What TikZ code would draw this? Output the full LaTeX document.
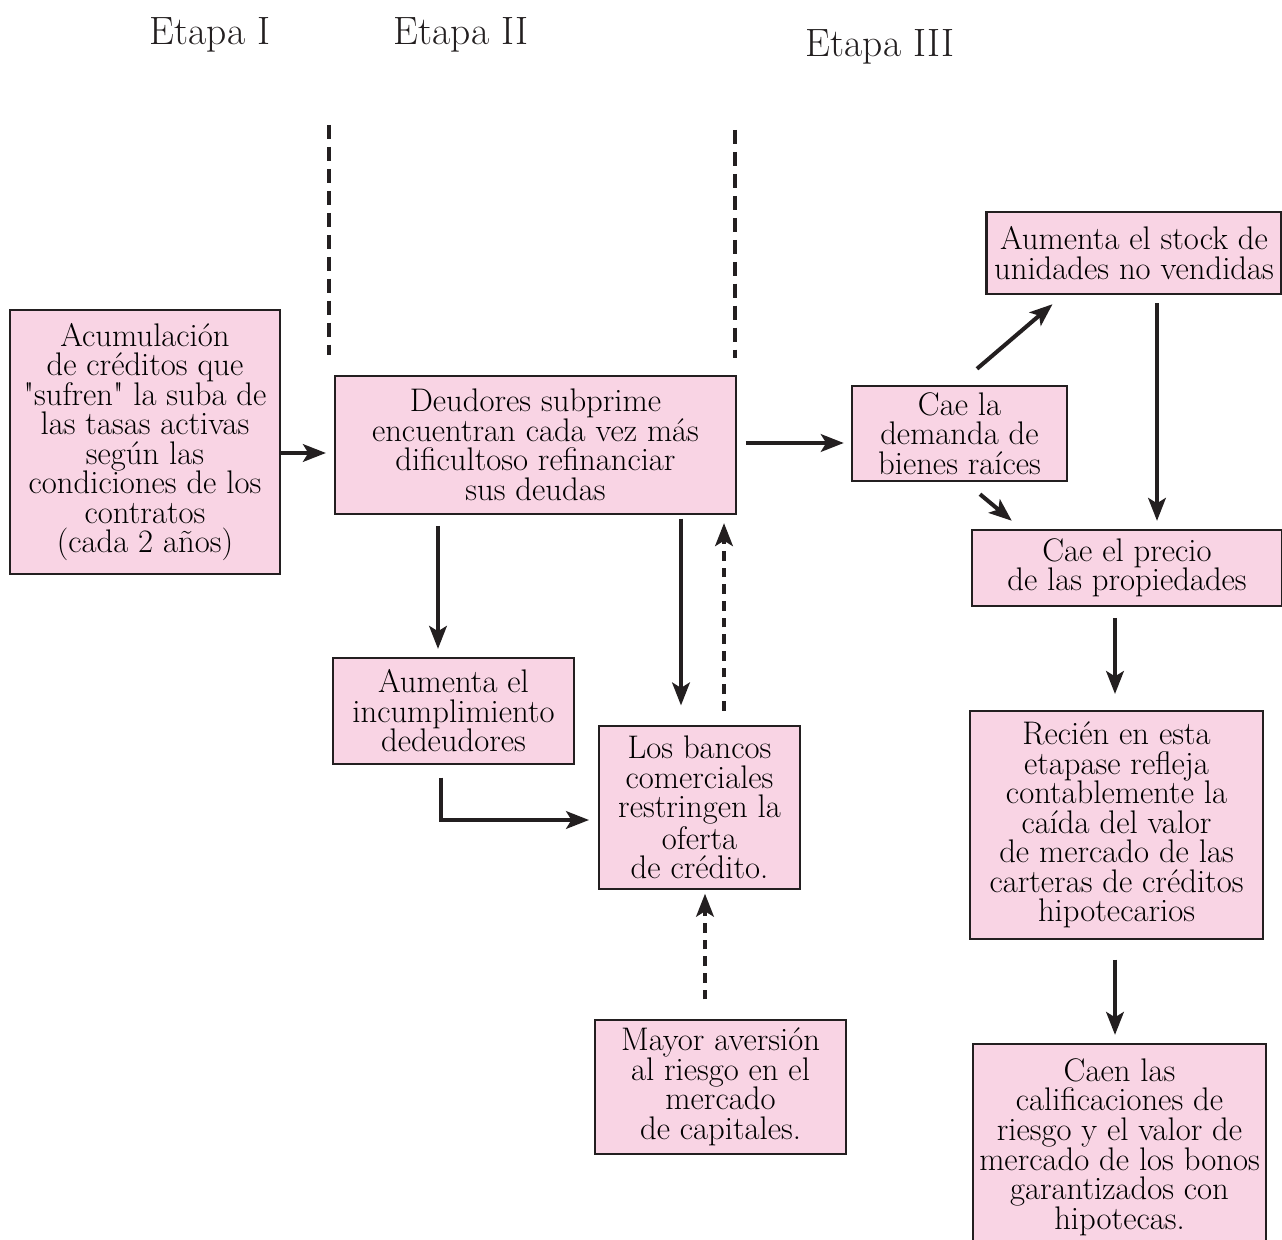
\documentclass[tikz,border=0pt]{standalone}
\usetikzlibrary{arrows.meta}
\definecolor{boxpink}{RGB}{249,212,228}
\definecolor{inkdark}{RGB}{35,31,32}
\begin{document}
\begin{tikzpicture}[x=0.02cm,y=-0.02cm,
  caja/.style={draw=inkdark,line width=1.4pt,fill=boxpink,align=center,inner sep=0pt,
    font=\fontsize{18.6}{16.8}\selectfont},
  etapa/.style={font=\fontsize{22.5}{24}\selectfont,text=inkdark},
  flecha/.style={draw=inkdark,line width=2.3pt,-{Stealth[length=13pt,width=10pt,inset=3pt]}},
  flechaD/.style={flecha,dash pattern=on 5.5pt off 4pt},
  corte/.style={draw=inkdark,line width=2.3pt,dash pattern=on 8pt off 4.5pt}]
\useasboundingbox (0,0) rectangle (1282,1240);

% titulos de las etapas
\node[etapa] (t1) at (210,35) {Etapa I};
\node[etapa] (t2) at (461,35) {Etapa II};
\node[etapa] (t3) at (880,47) {Etapa III};

\draw[corte] (329,125) -- (329,355);
\draw[corte] (735,130) -- (735,358);

% etapa I
\node[caja,minimum width=5.4cm,minimum height=5.28cm] (acum) at (145,442)
  {Acumulación\\de créditos que\\\textquotedbl sufren\textquotedbl{} la suba de\\las tasas activas\\según las\\condiciones de los\\contratos\\(cada 2 años)};

% etapa II
\node[caja,minimum width=8.02cm,minimum height=2.76cm] (deud) at (535.5,445)
  {Deudores subprime\\encuentran cada vez más\\dificultoso refinanciar\\sus deudas};
\node[caja,minimum width=4.82cm,minimum height=2.12cm] (incum) at (453.5,711)
  {Aumenta el\\incumplimiento\\dedeudores};
\node[caja,minimum width=4.02cm,minimum height=3.26cm] (banc) at (699.5,807.5)
  {Los bancos\\comerciales\\restringen la\\oferta\\de crédito.};
\node[caja,minimum width=5.02cm,minimum height=2.68cm] (avers) at (720.5,1087)
  {Mayor aversión\\al riesgo en el\\mercado\\de capitales.};

% etapa III
\node[caja,minimum width=4.3cm,minimum height=1.9cm] (dema) at (959.5,433.5)
  {Cae la\\demanda de\\bienes raíces};
\node[caja,minimum width=5.9cm,minimum height=1.64cm] (stock) at (1134,253)
  {Aumenta el stock de\\unidades no vendidas};
\node[caja,minimum width=6.2cm,minimum height=1.52cm] (prec) at (1127,568)
  {Cae el precio\\de las propiedades};
\node[caja,minimum width=5.86cm,minimum height=4.56cm] (reci) at (1116.5,825)
  {Recién en esta\\etapase refleja\\contablemente la\\caída del valor\\de mercado de las\\carteras de créditos\\hipotecarios};
\node[caja,minimum width=5.86cm,minimum height=4.12cm] (bonos) at (1119.5,1147)
  {Caen las\\calificaciones de\\riesgo y el valor de\\mercado de los bonos\\garantizados con\\hipotecas.};

% flechas
\draw[flecha,shorten >=4.5pt] (acum.east |- 0,453) -- (deud.west |- 0,453);
\draw[flecha,shorten <=5pt,shorten >=4pt] (deud.east |- 0,443) -- (dema.west |- 0,443);
\draw[flecha,shorten <=6pt,shorten >=4.5pt] (438,0 |- deud.south) -- (438,0 |- incum.north);
\draw[flecha,shorten <=2pt,shorten >=11pt] (681,0 |- deud.south) -- (681,0 |- banc.north);
\draw[flechaD,shorten <=8pt,shorten >=4.5pt] (724,0 |- banc.north) -- (724,0 |- deud.south);
\draw[flecha,shorten <=7pt,shorten >=5pt] (441,0 |- incum.south) |- (banc.west |- 0,820);
\draw[flechaD,shorten <=11pt,shorten >=2pt] (705,0 |- avers.north) -- (705,0 |- banc.south);
\draw[flecha] ([shift={(17.5,-16)}]dema.north) -- ([shift={(-81.5,9)}]stock.south);
\draw[flecha] ([shift={(20.5,12)}]dema.south) -- ([shift={(41,-8)}]prec.north west);
\draw[flecha,shorten <=4.5pt,shorten >=4.5pt] (1157,0 |- stock.south) -- (1157,0 |- prec.north);
\draw[flecha,shorten <=6pt,shorten >=9pt] (1115,0 |- prec.south) -- (1115,0 |- reci.north);
\draw[flecha,shorten <=11pt,shorten >=4.5pt] (1115,0 |- reci.south) -- (1115,0 |- bonos.north);
\end{tikzpicture}
\end{document}
